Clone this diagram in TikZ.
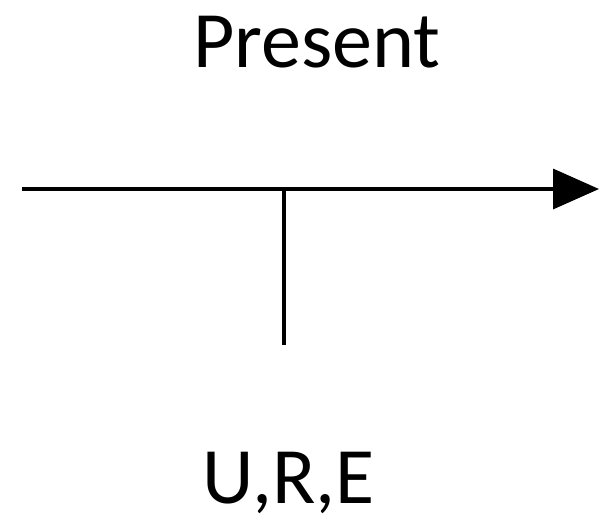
\documentclass[tikz,border=0pt]{standalone}
\usepackage{fontspec}
\setmainfont{Carlito}
\usetikzlibrary{arrows.meta}
\tikzset{
  lbl/.style={anchor=base, inner sep=0pt, font=\fontsize{80}{90}\selectfont},
  axis/.style={line width=3.5pt, -{Triangle[length=46pt,width=40pt]}},
  tick/.style={line width=3.5pt}
}
\begin{document}
\begin{tikzpicture}[x=1pt,y=-1pt]
\useasboundingbox (0,0) rectangle (599,517);
\coordinate (start) at (22,189);
\coordinate (end) at (599,189);
\coordinate (tickTop) at (284,189);
\coordinate (tickBot) at (284,345);
\node[lbl] (present) at (317,67) {Present};
\node[lbl] (ure) at (288.5,503) {U,R,E};
\draw[axis] (start) -- (end);
\draw[tick] (tickTop) -- (tickBot);
\end{tikzpicture}
\end{document}
